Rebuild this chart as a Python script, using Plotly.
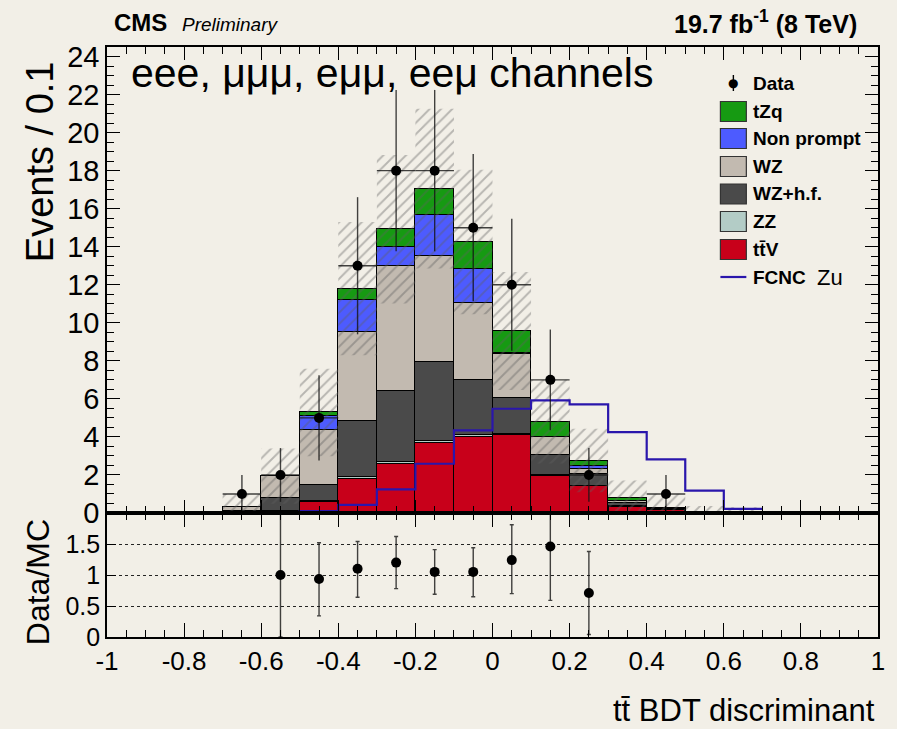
import numpy as np
import plotly.graph_objects as go

# ---------------- data ----------------
bin_centers = [-0.65, -0.55, -0.45, -0.35, -0.25, -0.15, -0.05, 0.05, 0.15, 0.25, 0.35, 0.45, 0.55, 0.65]
bin_width = 0.1

ttV      = [0.02, 0.05, 0.57, 1.80, 2.60, 3.70, 4.00, 4.10, 1.97, 1.41, 0.34, 0.15, 0.02, 0.00]
ZZ       = [0.01, 0.03, 0.05, 0.10, 0.10, 0.10, 0.10, 0.05, 0.05, 0.02, 0.02, 0.01, 0.00, 0.00]
WZ_hf    = [0.10, 0.70, 0.86, 2.92, 3.70, 4.14, 2.87, 1.91, 1.04, 0.60, 0.15, 0.05, 0.02, 0.02]
WZ       = [0.17, 1.14, 2.90, 4.70, 6.57, 5.56, 4.09, 2.32, 0.93, 0.30, 0.10, 0.03, 0.03, 0.03]
nonprompt= [0.00, 0.00, 0.70, 1.70, 0.99, 2.19, 1.76, 0.02, 0.02, 0.12, 0.03, 0.00, 0.00, 0.00]
tZq      = [0.00, 0.02, 0.21, 0.58, 0.96, 1.37, 1.43, 1.17, 0.79, 0.31, 0.14, 0.02, 0.00, 0.00]
mc_unc   = [0.70, 1.45, 2.30, 3.50, 3.90, 4.20, 3.80, 3.10, 2.20, 1.67, 0.93, 0.75, 0.30, 0.25]

data_counts = [1, 2, 5, 13, 18, 18, 15, 12, 7, 2, 0, 1, 0, 0]

fcnc_zu  = [0.00, 0.02, 0.10, 0.43, 1.24, 2.59, 4.34, 5.48, 5.92, 5.71, 4.25, 2.82, 1.18, 0.22]

ratio_x      = [-0.55, -0.45, -0.35, -0.25, -0.15, -0.05, 0.05, 0.15, 0.25]
ratio_vals   = [1.00, 0.935, 1.10, 1.20, 1.05, 1.05, 1.24, 1.46, 0.71]
ratio_err_up = [1.20, 0.585, 0.44, 0.42, 0.36, 0.39, 0.57, 0.60, 0.67]
ratio_err_lo = [1.00, 0.595, 0.46, 0.42, 0.36, 0.40, 0.54, 0.87, 0.67]

x_ticks = [-1, -0.8, -0.6, -0.4, -0.2, 0, 0.2, 0.4, 0.6, 0.8, 1]
x_tick_labels = ["-1", "-0.8", "-0.6", "-0.4", "-0.2", "0", "0.2", "0.4", "0.6", "0.8", "1"]

# ---------------- style ----------------
BG = "#f2efe7"
FONT = "Liberation Sans, Arial, Helvetica, sans-serif"
NARROW = "Liberation Sans Narrow, Arial Narrow, Liberation Sans, Arial, sans-serif"
colors = {
    "tZq": "#169a12",
    "Non prompt": "#4d5bff",
    "WZ": "#c2bab0",
    "WZ+h.f.": "#4a4a4a",
    "ZZ": "#b3ccc6",
    "ttV": "#c8001a",
    "FCNC": "#2a16ac",
}

W, H = 897, 729
L, R, T, B = 107, 17, 47, 92
plot_w = W - L - R
plot_h = H - T - B
ratio_frac = 124 / plot_h


def px(xp):
    return (xp - L) / plot_w


def py(yp):
    return (H - B - yp) / plot_h


fig = go.Figure()

# stacked backgrounds (bottom to top)
stack = [
    ("ttV", ttV, colors["ttV"]),
    ("ZZ", ZZ, colors["ZZ"]),
    ("WZ+h.f.", WZ_hf, colors["WZ+h.f."]),
    ("WZ", WZ, colors["WZ"]),
    ("Non prompt", nonprompt, colors["Non prompt"]),
    ("tZq", tZq, colors["tZq"]),
]
for name, vals, col in stack:
    fig.add_trace(go.Bar(
        x=bin_centers, y=vals, width=bin_width, name=name,
        marker=dict(color=col, line=dict(color="black", width=1)),
        xaxis="x", yaxis="y", showlegend=False,
    ))

# uncertainty band (hatched)
total = np.sum([np.array(v) for _, v, _ in stack], axis=0)
unc = np.array(mc_unc)
lo = np.clip(total - unc, 0, None)
hi = total + unc
edges = [c - bin_width / 2 for c in bin_centers] + [bin_centers[-1] + bin_width / 2]
lo_s = list(lo) + [lo[-1]]
hi_s = list(hi) + [hi[-1]]
fig.add_trace(go.Scatter(
    x=edges, y=lo_s, mode="lines", line=dict(width=0, shape="hv"),
    xaxis="x", yaxis="y", showlegend=False, hoverinfo="skip",
))
fig.add_trace(go.Scatter(
    x=edges, y=hi_s, mode="lines", line=dict(width=0, shape="hv"),
    fill="tonexty", fillcolor="rgba(0,0,0,0)",
    fillpattern=dict(shape="/", fgcolor="rgba(95,95,95,0.8)",
                     bgcolor="rgba(0,0,0,0)", size=8, solidity=0.24),
    xaxis="x", yaxis="y", showlegend=False, hoverinfo="skip",
))

# FCNC Zu signal
fig.add_trace(go.Scatter(
    x=edges, y=list(fcnc_zu) + [fcnc_zu[-1]], mode="lines",
    line=dict(color=colors["FCNC"], width=2.2, shape="hv"),
    xaxis="x", yaxis="y", showlegend=False,
))

# data
dx = [c for c, d in zip(bin_centers, data_counts) if d > 0]
dy = [d for d in data_counts if d > 0]
fig.add_trace(go.Scatter(
    x=dx, y=dy, mode="markers",
    marker=dict(color="black", size=10),
    error_y=dict(type="data", array=list(np.sqrt(dy)), width=0, thickness=1.4,
                 color="rgba(20,20,20,0.8)"),
    error_x=dict(type="constant", value=bin_width / 2, width=0, thickness=1.4,
                 color="rgba(20,20,20,0.8)"),
    xaxis="x", yaxis="y", showlegend=False,
))

# ratio
fig.add_trace(go.Scatter(
    x=ratio_x, y=ratio_vals, mode="markers",
    marker=dict(color="black", size=10),
    error_y=dict(type="data", symmetric=False, array=ratio_err_up, arrayminus=ratio_err_lo,
                 width=2, thickness=1.4, color="rgba(20,20,20,0.8)"),
    xaxis="x2", yaxis="y2", showlegend=False, cliponaxis=True,
))

axis_common = dict(showline=True, linecolor="black", linewidth=1.6, mirror="allticks",
                   ticks="inside", tickcolor="black", zeroline=False, showgrid=False)

fig.update_layout(
    width=W, height=H,
    margin=dict(l=L, r=R, t=T, b=B, pad=0),
    paper_bgcolor=BG, plot_bgcolor=BG,
    font=dict(family=FONT, color="black"),
    barmode="stack", bargap=0,
    showlegend=False,
    xaxis=dict(domain=[0, 1], range=[-1, 1], anchor="y", matches="x2",
               tickvals=x_ticks, showticklabels=False, ticklen=13, tickwidth=1.2,
               minor=dict(dtick=0.05, tick0=0, ticks="inside", ticklen=7, tickcolor="black", tickwidth=1.2),
               **axis_common),
    yaxis=dict(domain=[ratio_frac, 1], range=[0, 24.5], anchor="x",
               tickvals=list(range(0, 25, 2)), ticklen=13, tickwidth=1.2,
               tickfont=dict(size=29),
               minor=dict(dtick=0.5, tick0=0, ticks="inside", ticklen=7, tickcolor="black", tickwidth=1.2),
               **axis_common),
    xaxis2=dict(domain=[0, 1], range=[-1, 1], anchor="y2",
                tickvals=x_ticks, ticktext=x_tick_labels, ticklen=14, tickwidth=1.2,
                tickfont=dict(size=26),
                minor=dict(dtick=0.05, tick0=0, ticks="inside", ticklen=7, tickcolor="black", tickwidth=1.2),
                **axis_common),
    yaxis2=dict(domain=[0, ratio_frac], range=[0, 2], anchor="x2",
                tickvals=[0, 0.5, 1, 1.5], ticktext=["0", "0.5", "1", "1.5"],
                ticklen=9, tickwidth=1.2, tickfont=dict(size=25),
                showline=True, linecolor="black", linewidth=1.6, mirror="allticks",
                ticks="inside", tickcolor="black", zeroline=False,
                showgrid=True, gridcolor="rgba(0,0,0,0.85)", griddash="dot", gridwidth=1.2),
)

annotations = []
shapes = []

# header texts
annotations.append(dict(x=px(112), y=py(23), xref="paper", yref="paper", text="<b>CMS</b>",
                        showarrow=False, xanchor="left", yanchor="middle",
                        font=dict(family=NARROW, size=24, color="black")))
annotations.append(dict(x=px(180), y=py(24), xref="paper", yref="paper", text="<i>Preliminary</i>",
                        showarrow=False, xanchor="left", yanchor="middle",
                        font=dict(family=NARROW, size=19, color="black")))
annotations.append(dict(x=px(861), y=py(22), xref="paper", yref="paper",
                        text="<b>19.7 fb<sup>-1</sup> (8 TeV)</b>",
                        showarrow=False, xanchor="right", yanchor="middle",
                        font=dict(family=NARROW, size=25, color="black")))
annotations.append(dict(x=px(129), y=py(73), xref="paper", yref="paper",
                        text="eee, μμμ, eμμ, eeμ channels",
                        showarrow=False, xanchor="left", yanchor="middle",
                        font=dict(family=FONT, size=41, color="black")))

# axis titles
annotations.append(dict(x=px(40), y=py(162), xref="paper", yref="paper", text="Events / 0.1",
                        textangle=-90, showarrow=False, xanchor="center", yanchor="middle",
                        font=dict(family=FONT, size=38, color="black")))
annotations.append(dict(x=px(38), y=py(582), xref="paper", yref="paper", text="Data/MC",
                        textangle=-90, showarrow=False, xanchor="center", yanchor="middle",
                        font=dict(family=FONT, size=32, color="black")))
annotations.append(dict(x=px(879), y=py(710), xref="paper", yref="paper", text="tt̄ BDT discriminant",
                        showarrow=False, xanchor="right", yanchor="middle",
                        font=dict(family=FONT, size=31, color="black")))

# legend
leg_text_x = 753
leg_font = dict(family=FONT, size=19, color="black")
# Data entry
shapes.append(dict(type="line", xref="paper", yref="paper", x0=px(735), x1=px(735),
                   y0=py(75), y1=py(91), line=dict(color="black", width=1.4)))
annotations.append(dict(x=px(735), y=py(83), xref="paper", yref="paper", text="●",
                        showarrow=False, xanchor="center", yanchor="middle",
                        font=dict(family="DejaVu Sans", size=12, color="black")))
annotations.append(dict(x=px(leg_text_x), y=py(83), xref="paper", yref="paper", text="<b>Data</b>",
                        showarrow=False, xanchor="left", yanchor="middle", font=leg_font))
legend_boxes = [
    ("tZq", colors["tZq"], 111.5),
    ("Non prompt", colors["Non prompt"], 138.5),
    ("WZ", colors["WZ"], 166.5),
    ("WZ+h.f.", colors["WZ+h.f."], 194),
    ("ZZ", colors["ZZ"], 221.5),
    ("tt̄V", colors["ttV"], 249.5),
]
for label, col, yc in legend_boxes:
    shapes.append(dict(type="rect", xref="paper", yref="paper",
                       x0=px(722), x1=px(748), y0=py(yc + 10), y1=py(yc - 10),
                       fillcolor=col, line=dict(color="#333333", width=1.2)))
    annotations.append(dict(x=px(leg_text_x), y=py(yc), xref="paper", yref="paper",
                            text="<b>" + label + "</b>", showarrow=False,
                            xanchor="left", yanchor="middle", font=leg_font))
shapes.append(dict(type="line", xref="paper", yref="paper", x0=px(722), x1=px(748),
                   y0=py(277), y1=py(277), line=dict(color=colors["FCNC"], width=2.2)))
annotations.append(dict(x=px(leg_text_x), y=py(277), xref="paper", yref="paper", text="<b>FCNC</b>",
                        showarrow=False, xanchor="left", yanchor="middle", font=leg_font))
annotations.append(dict(x=px(817), y=py(277), xref="paper", yref="paper", text="Zu",
                        showarrow=False, xanchor="left", yanchor="middle",
                        font=dict(family=FONT, size=22, color="black")))

fig.update_layout(annotations=annotations, shapes=shapes)

fig.write_html(
    "out.html",
    config={"displayModeBar": False},
    post_script="document.body.style.margin='0';document.body.style.padding='0';"
                "document.body.style.background='" + BG + "';"
                "document.documentElement.style.background='" + BG + "';",
)
